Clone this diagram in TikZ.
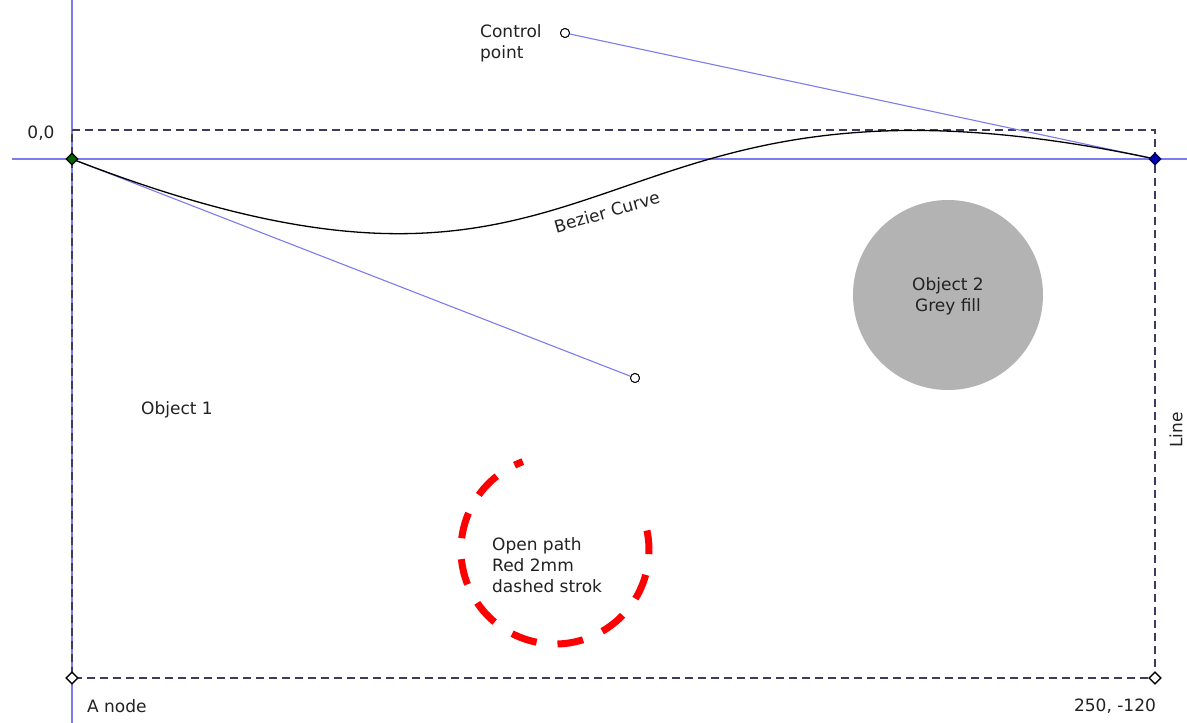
\documentclass[tikz,border=0pt]{standalone}
\usepackage{fontspec}
\setmainfont{DejaVu Sans}
\usetikzlibrary{shapes.geometric}
\definecolor{guide}{HTML}{7C7CEE}
\definecolor{bbox}{HTML}{3C3C60}
\definecolor{greyfill}{HTML}{B3B3B3}
\definecolor{txt}{HTML}{222222}
\tikzset{
  lbl/.style={font=\fontsize{17}{21}\selectfont, text=txt, inner sep=0pt, align=left},
  knot/.style={diamond, draw=black, line width=1.2pt, minimum size=12pt, inner sep=0pt},
  ctrl/.style={circle, draw=black, fill=white, line width=0.9pt, minimum size=9pt, inner sep=0pt},
  guideline/.style={draw=guide, line width=1.1pt},
  boxline/.style={draw=bbox, line width=1.1pt, dash pattern=on 8pt off 5pt},
}
\begin{document}
\begin{tikzpicture}[x=1pt,y=-1pt]
\useasboundingbox[fill=white] (0,0) rectangle (1187,723);
% guides
\coordinate (gl) at (12,159);
\coordinate (gr) at (1187,159);
\coordinate (gt) at (72,0);
\coordinate (gb) at (72,723);
\draw[guideline] (gl) -- (gr);
\draw[guideline] (gt) -- (gb);
% bounding box (dashed)
\coordinate (bt1) at (72,130);
\coordinate (bt2) at (1155,130);
\node[knot, fill=white] (bl) at (72,678) {};
\node[knot, fill=white] (br) at (1155,678) {};
\draw[boxline] (bt1) -- (bt2) -- (br.center) -- (bl.center) -- cycle;
% control points and handles
\node[ctrl] (cp1) at (565,33) {};
\node[ctrl] (cp2) at (635,378) {};
\coordinate (o) at (72,159);
\coordinate (e) at (1155,159);
\draw[guideline] (o) -- (cp2);
\draw[guideline] (e) -- (cp1);
% bezier
\draw[black, line width=1.3pt] (o) .. controls (cp2.center) and (cp1.center) .. (e);
\node[ctrl] at (cp1) {};
\node[ctrl] at (cp2) {};
\node[knot, fill=black!60!green] (on) at (o) {};
\node[knot, fill=blue!70!black, draw=blue!30!black] (en) at (e) {};
\node[knot, fill=white] at (bl) {};
\node[knot, fill=white] at (br) {};
% grey circle
\node[circle, fill=greyfill, minimum size=190pt, inner sep=0pt] (obj2) at (948,295) {};
\node[lbl, align=center] at (948,296) {Object 2\\Grey fill};
% red open path
\coordinate (rc) at (555,550);
\draw[red, line width=7pt, dash pattern=on 26pt off 21pt, dash phase=17pt]
  ([shift={(-110:94)}]rc) arc[start angle=-110, end angle=-372, radius=94];
\node[lbl, anchor=west] at (492,565) {Open path\\Red 2mm\\dashed strok};
% labels
\node[lbl, anchor=west] at (480,43) {Control\\point};
\node[lbl] at (41,133) {0,0};
\node[lbl, rotate=16] at (607,212) {Bezier Curve};
\node[lbl] at (177,410) {Object 1};
\node[lbl, anchor=west] at (87,706) {A node};
\node[lbl] at (1115,706) {250, -120};
\node[lbl, rotate=90] at (1176,430) {Line};
\end{tikzpicture}
\end{document}
